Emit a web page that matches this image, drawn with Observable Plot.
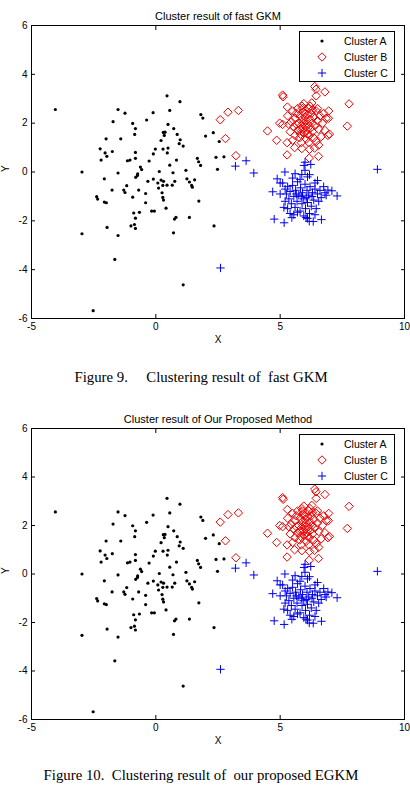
<!DOCTYPE html>
<html><head><meta charset="utf-8">
<script src="https://cdn.jsdelivr.net/npm/d3@7"></script>
<script src="https://cdn.jsdelivr.net/npm/@observablehq/plot@0.6"></script>
<style>
body{margin:0;background:#fff}
#wrap{position:relative;width:410px;height:786px;overflow:hidden;background:#fff}
.panel{position:absolute;left:0}
.cap{position:absolute;left:0;width:402px;text-align:center;font-family:"Liberation Serif","Times New Roman",serif;font-size:14.8px;line-height:16px;white-space:pre;color:#000}
.legend{position:absolute;left:299px;top:31px;width:96px;height:51px;border:1px solid #000;background:#fff;box-sizing:border-box}
.legend svg{position:absolute;left:-1px;top:-1px}
</style></head>
<body>
<div id="wrap">
<div id="p1" class="panel" style="top:0"></div>
<div class="cap" style="top:369px">Figure 9.     Clustering result of  fast GKM</div>
<div id="p2" class="panel" style="top:403px"></div>
<div class="cap" style="top:767px">Figure 10.  Clustering result of  our proposed EGKM</div>
</div>
<script>
const titles = ["Cluster result of fast GKM", "Cluster result of Our Proposed Method"];
const legendLabels = ["Cluster A", "Cluster B", "Cluster C"];
const xTicks = [-5, 0, 5, 10];
const yTicks = [-6, -4, -2, 0, 2, 4, 6];

const clusterA = [
 [-4.04,2.56],[0.45,3.12],[0.97,2.88],[-1.52,2.56],[-1.24,2.41],[-0.11,2.43],[0.56,2.52],[1.81,2.35],[1.89,2.21],[-1.72,2.06],
 [-0.37,2.13],[-0.93,1.99],[-0.82,1.78],[-0.85,1.54],[0.49,1.95],[0.72,1.78],[0.30,1.62],[0.37,1.63],[0.34,1.50],[0.86,1.54],
 [2.0,1.47],[2.31,1.61],[2.55,1.25],[-2.0,1.36],[-1.41,1.36],[0.21,1.29],[0.98,1.32],[0.94,1.16],[1.10,1.06],[-2.24,0.95],
 [-2.04,0.78],[-1.97,0.64],[-2.2,0.49],[-1.75,0.84],[-0.82,0.80],[-0.82,0.56],[-1.14,0.46],[-1.04,0.49],[-0.02,0.94],[-0.10,0.74],
 [0.29,0.94],[0.49,0.98],[0.46,0.78],[-0.27,0.45],[0.56,0.28],[0.83,0.49],[1.67,0.56],[1.72,0.42],[1.8,0.27],[2.42,0.60],
 [2.74,0.62],[-2.97,0],[-1.52,-0.04],[0.14,0.02],[0.69,-0.03],[1.21,0.07],[2.48,0.11],[-0.62,0.20],[-0.57,0.10],[-0.73,-0.08],
 [-2.07,-0.28],[-1.76,-0.74],[-1.29,-0.74],[-1.24,-0.84],[-1.17,-0.56],[-2.38,-1.01],[-2.34,-1.11],[-2.07,-1.23],[-1.99,-1.26],[-0.93,-1.03],
 [-0.69,-0.74],[-0.41,-0.88],[-0.41,-1.26],[-0.81,-0.22],[-0.74,-0.14],[-0.32,-0.38],[-0.10,-0.29],[0.08,-0.45],[0.11,-0.66],[0.21,-0.33],
 [0.31,-0.38],[0.28,-0.55],[0.45,-0.54],[0.66,-0.54],[0.76,-0.38],[0.25,-0.85],[0.28,-1.04],[0.31,-1.15],[0.41,-1.48],[1.25,-0.28],
 [1.35,-0.41],[1.44,-0.55],[1.47,-0.62],[1.56,-0.32],[1.73,-1.19],[-0.17,-1.60],[-0.06,-1.60],[-0.66,-1.65],[-0.89,-1.68],[-0.82,-1.89],
 [-1.0,-2.21],[-0.86,-2.15],[-0.82,-2.31],[0.75,-1.93],[0.81,-1.86],[1.35,-1.86],[-1.96,-2.27],[-2.97,-2.53],[-1.52,-2.60],[0.71,-2.49],
 [2.34,-2.21],[-1.65,-3.58],[1.10,-4.62],[-2.52,-5.68]
];

const clusterB = [
 [2.59,2.14],[2.9,2.45],[3.32,2.52],[2.8,1.37],[3.22,0.67],[4.49,1.68],[4.86,1.3],[5.1,3.15],[5.12,3.08],[6.39,3.5],
 [6.44,3.39],[6.8,3.28],[7.77,2.79],[7.7,1.88],[5.28,0.7],[5.28,1.2],[5.58,1.0],[5.87,0.96],[6.18,0.93],[6.54,0.64],
 [6.17,0.57],[6.38,0.98],[6.55,1.1],[6.92,1.5],[6.98,1.55],[6.95,2.5],[6.94,2.2],[6.27,2.83],[5.87,2.7],[5.29,2.66],
 [4.98,2.0],[5.1,1.95],[6.45,3.12],
 [5.45,2.05],[5.55,1.85],[5.6,2.2],[5.65,2.4],[5.7,1.7],[5.75,2.0],[5.8,2.3],[5.82,1.55],[5.85,1.9],[5.88,2.15],
 [5.9,1.75],[5.92,2.45],[5.95,2.0],[5.97,1.6],[6.0,2.25],[6.02,1.85],[6.05,2.1],[6.08,1.7],[6.1,2.35],[6.12,1.95],
 [6.15,2.6],[6.18,1.5],[6.2,2.15],[6.22,1.8],[6.25,2.4],[6.28,2.0],[6.3,1.65],[6.35,2.25],[6.4,1.9],[6.45,2.5],
 [6.5,2.1],[6.55,1.75],[6.6,2.3],[6.65,1.45],[6.7,2.0],[5.5,2.5],[5.4,1.65],[5.6,1.5],[5.7,2.6],[5.78,1.4],
 [5.9,2.6],[6.05,1.35],[6.2,2.7],[6.35,1.4],[6.5,2.6],[6.75,2.4],[6.8,1.7],[5.35,1.95],[5.3,2.3],[5.5,1.3],
 [5.85,1.2],[6.15,1.2],[6.45,1.25],[6.85,2.2],[5.95,2.8],[6.1,1.55],[5.8,1.75],[5.98,2.4],[6.3,2.55],[5.65,1.95]
];

const clusterC = [
 [3.2,0.24],[3.63,0.46],[3.94,-0.04],[8.91,0.11],[4.7,-0.81],[4.76,-1.93],[5.16,-2.08],[5.19,0],[5.6,-0.07],[4.88,-0.28],
 [6.0,0.4],[5.96,0.27],[6.23,0.31],[6.0,0.07],[6.18,-0.11],[5.87,-0.1],[7.29,-0.98],[7.08,-0.77],[6.92,-0.74],[6.75,-0.6],
 [6.66,-1.95],[6.33,-2.03],[6.17,-2.02],[6.04,-1.86],[5.47,-1.87],[2.6,-3.93],[5.0,-0.45],
 [5.1,-0.45],[5.2,-0.7],[5.25,-0.9],[5.3,-0.6],[5.35,-1.1],[5.4,-0.8],[5.45,-1.3],[5.5,-0.55],[5.55,-1.0],[5.6,-1.45],
 [5.62,-0.75],[5.68,-1.2],[5.7,-0.4],[5.75,-0.95],[5.8,-1.6],[5.82,-0.65],[5.88,-1.3],[5.9,-0.85],[5.95,-1.1],[6.0,-0.5],
 [6.02,-1.5],[6.08,-0.75],[6.1,-1.25],[6.15,-0.95],[6.18,-1.7],[6.2,-0.6],[6.25,-1.4],[6.3,-0.85],[6.35,-1.15],[6.4,-0.7],
 [6.45,-1.5],[6.5,-0.9],[6.55,-1.2],[6.6,-0.75],[6.65,-1.05],[5.3,-1.5],[5.4,-1.7],[5.55,-1.75],[5.7,-1.65],[5.95,-1.8],
 [6.1,-1.9],[6.4,-1.75],[5.5,-0.25],[5.8,-0.3],[6.1,-0.2],[6.4,-0.45],[6.5,-0.35],[5.2,-1.2],[5.0,-0.9],[5.15,-1.45],
 [5.85,-1.0],[6.05,-1.05],[5.65,-0.9],[6.28,-1.0],[6.8,-0.85],[6.85,-0.95]
];

const font = "'Liberation Sans', Arial, sans-serif";
const toObj = a => a.map(([x, y]) => ({x, y}));
const rB = 3.8, rC = 2.8, rA = 1.6;

function panel(title, height) {
  return Plot.plot({
    width: 410, height,
    marginTop: 25, marginBottom: 32, marginLeft: 31, marginRight: 6,
    style: {fontFamily: font, fontSize: "10px", background: "white", color: "black", overflow: "visible"},
    x: {domain: [-5, 10]},
    y: {domain: [-6, 6]},
    marks: [
      Plot.dot(toObj(clusterA), {x: "x", y: "y", r: rA, fill: "black"}),
      Plot.dot(toObj(clusterB), {x: "x", y: "y", symbol: "diamond2", r: rB, stroke: "#ee0000", fill: "none", strokeWidth: 1}),
      Plot.dot(toObj(clusterC), {x: "x", y: "y", symbol: "plus", r: rC, stroke: "#0000ee", strokeWidth: 1}),
      Plot.frame({stroke: "black"}),
      Plot.axisX(xTicks, {anchor: "bottom", tickSize: -4, tickPadding: 8, label: null, tickFormat: d => String(d)}),
      Plot.axisX(xTicks, {anchor: "top", tickSize: -4, label: null, tickFormat: () => ""}),
      Plot.axisY(yTicks, {anchor: "left", tickSize: -4, tickPadding: 8, label: null, tickFormat: d => String(d)}),
      Plot.axisY(yTicks, {anchor: "right", tickSize: -4, label: null, tickFormat: () => ""}),
      Plot.text([title], {frameAnchor: "top", dy: -13, text: d => d, fontSize: 11}),
      Plot.text(["X"], {frameAnchor: "bottom", dy: 24, text: d => d, fontSize: 10}),
      Plot.text(["Y"], {frameAnchor: "left", dx: -26, rotate: -90, text: d => d, fontSize: 10})
    ]
  });
}

function legend() {
  const div = document.createElement("div");
  div.className = "legend";
  const svg = d3.create("svg").attr("width", 96).attr("height", 51)
    .style("font-family", font).style("font-size", "10.5px");
  const g = svg.selectAll("g").data(legendLabels).join("g")
    .attr("transform", (d, i) => `translate(23,${10 + 16 * i})`);
  g.filter((d, i) => i === 0).append("circle").attr("r", rA).attr("fill", "black");
  g.filter((d, i) => i === 1).append("path")
    .attr("d", d3.symbol(d3.symbolDiamond2, Math.PI * rB * rB)())
    .attr("fill", "none").attr("stroke", "#ee0000");
  g.filter((d, i) => i === 2).append("path")
    .attr("d", d3.symbol(d3.symbolPlus, Math.PI * rC * rC)())
    .attr("fill", "none").attr("stroke", "#0000ee");
  g.append("text").attr("x", 22).attr("dy", "0.35em").text(d => d);
  div.appendChild(svg.node());
  return div;
}

const p1 = document.getElementById("p1");
p1.appendChild(panel(titles[0], 350));
p1.appendChild(legend());
const p2 = document.getElementById("p2");
p2.appendChild(panel(titles[1], 348));
p2.appendChild(legend());
</script>
</body></html>
